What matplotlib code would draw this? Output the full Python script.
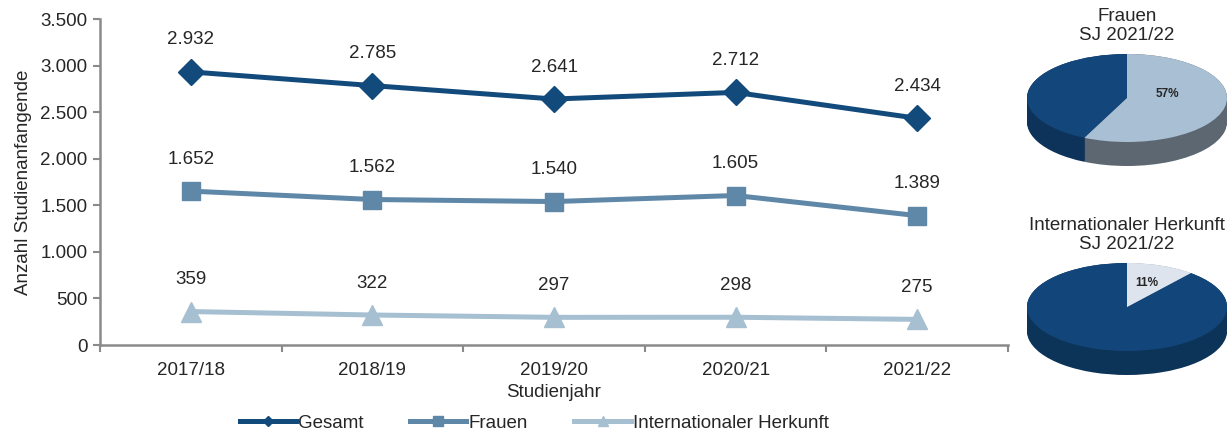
import matplotlib.pyplot as plt
import numpy as np
from matplotlib.patches import Wedge
from matplotlib.lines import Line2D

plt.rcParams['font.family'] = ['Liberation Sans', 'DejaVu Sans']

jahre = ['2017/18', '2018/19', '2019/20', '2020/21', '2021/22']
gesamt = [2932, 2785, 2641, 2712, 2434]
frauen = [1652, 1562, 1540, 1605, 1389]
international = [359, 322, 297, 298, 275]

# pies, share of 2021/22
frauen_anteil = 57
intl_anteil = 11

c_ges = '#134a7c'
c_fr = '#5f87a7'
c_int = '#a6bfd1'
txt = '#262626'
grey = '#8a8a8a'
fs = 13.5


def fmt(v):
    return f'{v:,}'.replace(',', '.')


fig = plt.figure(figsize=(12.31, 4.36), dpi=100)
ax = fig.add_axes([100 / 1231, 91 / 436, 908 / 1231, 326 / 436])

x = np.arange(len(jahre))
ax.plot(x, gesamt, color=c_ges, lw=3.6, marker='D', ms=13, mec=c_ges)
ax.plot(x, frauen, color=c_fr, lw=3.6, marker='s', ms=13, mec=c_fr)
ax.plot(x, international, color=c_int, lw=3.6, marker='^', ms=14, mec=c_int)

for serie in (gesamt, frauen, international):
    for xi, v in zip(x, serie):
        ax.annotate(fmt(v), (xi, v), xytext=(0, 23), textcoords='offset points',
                    ha='center', va='center', fontsize=fs, color=txt)

ax.set_xlim(-0.5, 4.5)
ax.set_ylim(0, 3500)
ax.set_yticks(range(0, 3501, 500))
ax.set_yticklabels([fmt(v) for v in range(0, 3501, 500)], fontsize=fs, color=txt)
ax.set_xticks(x)
ax.set_xticklabels(jahre, fontsize=fs, color=txt)
ax.set_xticks(np.arange(-0.5, 5, 1), minor=True)
ax.tick_params(axis='x', which='major', length=0, pad=12)
ax.tick_params(axis='x', which='minor', length=5, color=grey, width=1.5)
ax.tick_params(axis='y', length=5, color=grey, width=1.5, pad=4)
for s in ('top', 'right'):
    ax.spines[s].set_visible(False)
for s in ('left', 'bottom'):
    ax.spines[s].set_color(grey)
    ax.spines[s].set_linewidth(1.8)
ax.set_xlabel('Studienjahr', fontsize=fs, color=txt, labelpad=4)
ax.set_ylabel('Anzahl Studienanfangende', fontsize=fs, color=txt, labelpad=6)

handles = [
    Line2D([], [], color=c_ges, lw=3.6, marker='D', ms=5),
    Line2D([], [], color=c_fr, lw=3.6, marker='s', ms=7),
    Line2D([], [], color=c_int, lw=3.6, marker='^', ms=7),
]
fig.legend(handles, ['Gesamt', 'Frauen', 'Internationaler Herkunft'],
           loc='center', bbox_to_anchor=(534 / 1231, 1 - 423 / 436), ncol=3,
           frameon=False, fontsize=fs, handlelength=3.0, handletextpad=0.1,
           columnspacing=2.5, labelcolor=txt)


def pie3d(cy, teile, farben, seiten, label, lab_pos, titel):
    # cy: center of top ellipse in figure pixels (from top)
    rx, ry, tiefe = 100, 44, 24
    pax = fig.add_axes([(1127 - rx) / 1231, 1 - (cy + ry + tiefe) / 436,
                        2 * rx / 1231, (2 * ry + tiefe) / 436])
    pax.set_xlim(-1, 1)
    pax.set_ylim(-1 - 2 * tiefe / (2 * ry), 1)
    pax.axis('off')
    dy = 2 * tiefe / (2 * ry)
    winkel = [90]
    for t in teile:
        winkel.append(winkel[-1] + t / 100 * 360)
    # side walls, stacked
    for k in np.linspace(dy, 0, 25):
        for i in range(len(teile)):
            pax.add_patch(Wedge((0, -k), 1, winkel[i], winkel[i + 1],
                                fc=seiten[i], ec='none'))
    for i in range(len(teile)):
        pax.add_patch(Wedge((0, 0), 1, winkel[i], winkel[i + 1],
                            fc=farben[i], ec='none'))
    pax.text(lab_pos[0], lab_pos[1], label, ha='center', va='center',
             fontsize=8.5, fontweight='bold', color=txt)
    fig.text(1127 / 1231, 1 - (cy - 72) / 436, titel, ha='center', va='center',
             fontsize=fs, color=txt, linespacing=1.2)


pie3d(98, [100 - frauen_anteil, frauen_anteil], ['#13467a', '#a9bfd3'],
      ['#0d335a', '#5d6772'], f'{frauen_anteil}%', (0.4, 0.1),
      'Frauen\nSJ 2021/22')
pie3d(307, [100 - intl_anteil, intl_anteil], ['#12467a', '#dde4ee'],
      ['#0c3358', '#9aa3ad'], f'{intl_anteil}%', (0.2, 0.55),
      'Internationaler Herkunft\nSJ 2021/22')

fig.savefig('out.png', dpi=100)
